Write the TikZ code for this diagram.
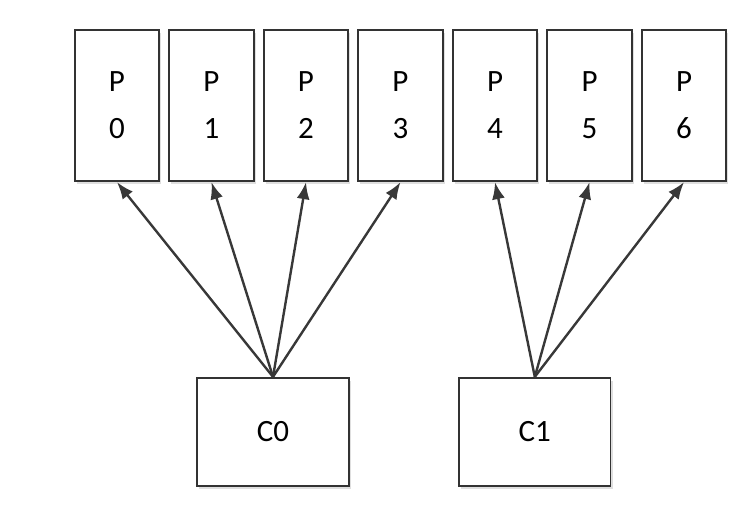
\documentclass[tikz,border=0pt]{standalone}
\usepackage{fontspec}
\setmainfont{Carlito}
\usetikzlibrary{positioning}
\usetikzlibrary{arrows.meta}
\usetikzlibrary{shadows}

\begin{document}
\begin{tikzpicture}[x=1pt, y=1pt,
  part/.style={draw=black!80, line width=1.8pt, fill=white, inner sep=0pt,
    minimum width=84.5pt, minimum height=151.5pt, align=center,
    font=\fontsize{31}{47}\selectfont,
    drop shadow={shadow xshift=2pt, shadow yshift=-3pt, opacity=0.25}},
  consumer/.style={part, minimum width=151.5pt, minimum height=108.5pt},
  link/.style={-{Latex[length=17pt,width=13pt]}, line width=2.4pt, draw=black!78}]
  \useasboundingbox (0,0) rectangle (751,-512);

  \node[part] (p0) at (117,-105.5) {P\\0};
  \node[part, right=8.2pt of p0] (p1) {P\\1};
  \node[part, right=8.2pt of p1] (p2) {P\\2};
  \node[part, right=8.2pt of p2] (p3) {P\\3};
  \node[part, right=8.2pt of p3] (p4) {P\\4};
  \node[part, right=8.2pt of p4] (p5) {P\\5};
  \node[part, right=8.2pt of p5] (p6) {P\\6};

  \node[consumer] (c0) at (273,-432) {C0};
  \node[consumer, right=108.5pt of c0] (c1) {C1};

  \draw[link] (c0.north) -- (p0.south);
  \draw[link] (c0.north) -- (p1.south);
  \draw[link] (c0.north) -- (p2.south);
  \draw[link] (c0.north) -- (p3.south);
  \draw[link] (c1.north) -- (p4.south);
  \draw[link] (c1.north) -- (p5.south);
  \draw[link] (c1.north) -- (p6.south);
\end{tikzpicture}
\end{document}
